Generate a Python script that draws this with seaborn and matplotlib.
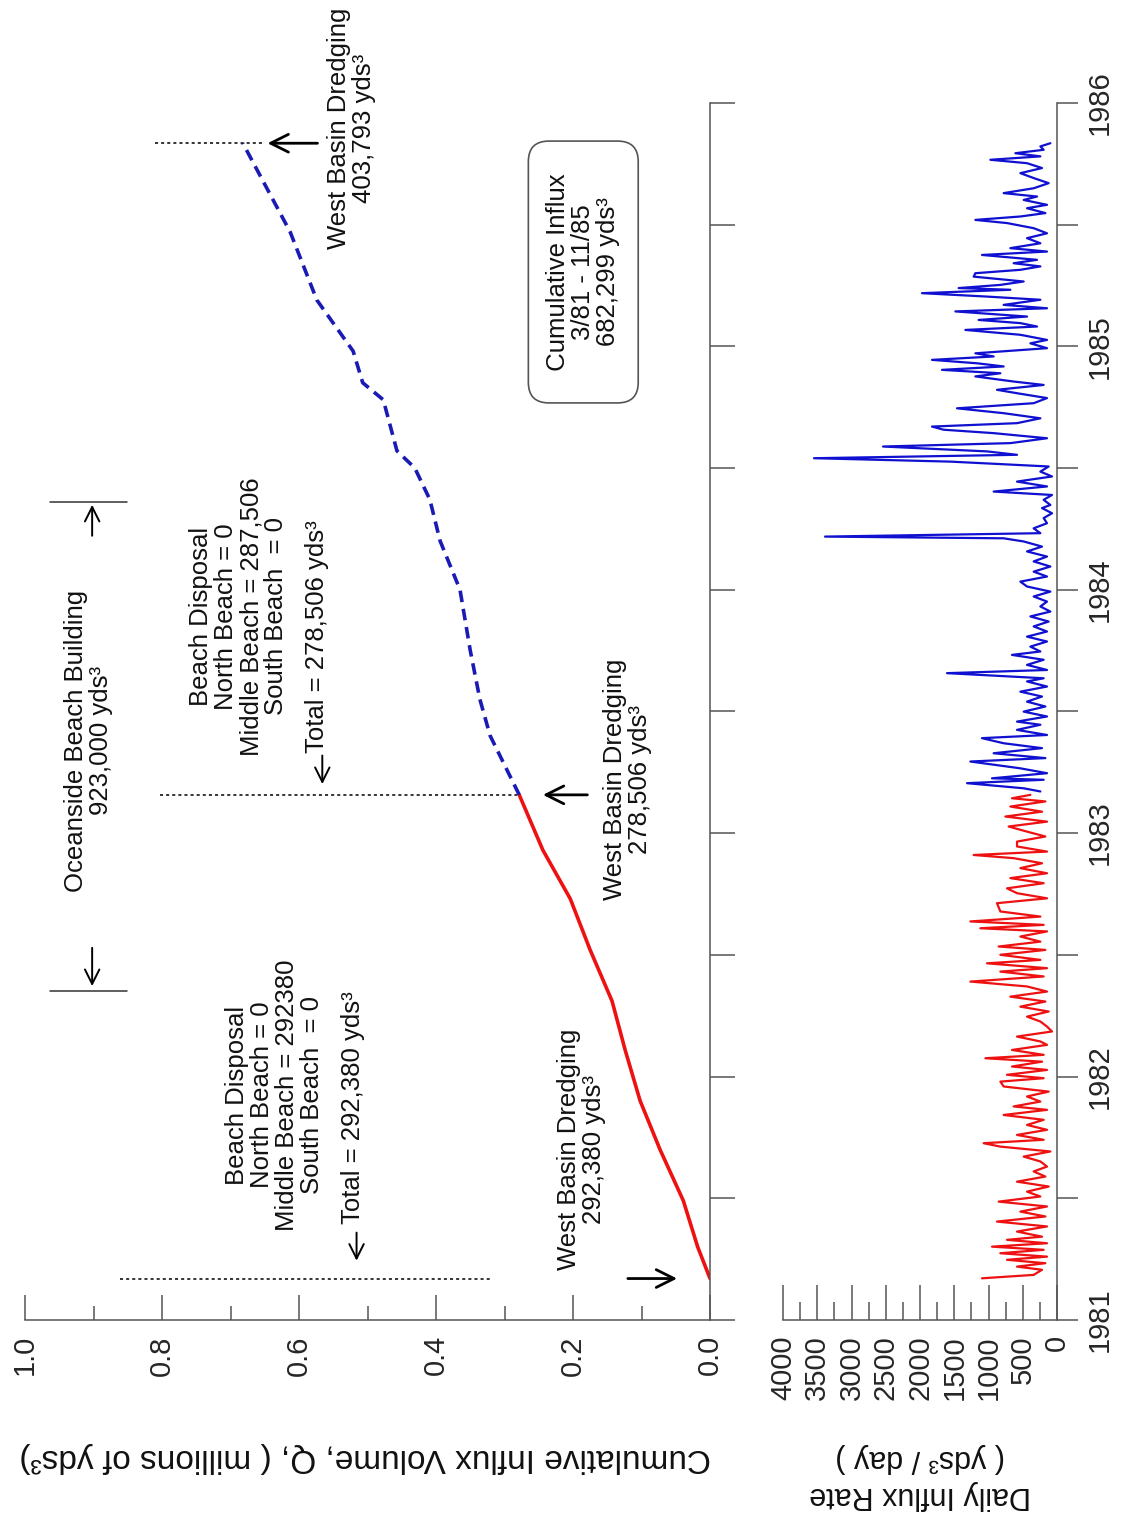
import matplotlib
matplotlib.use("Agg")
import matplotlib.pyplot as plt
import seaborn as sns

sns.set_style("ticks")
plt.rcParams['font.family'] = ['Liberation Sans', 'DejaVu Sans']

# cumulative influx volume (millions of yds3), red = before 1983 dredging, blue = after
cum_red_years = [1981.17, 1981.3, 1981.49, 1981.70, 1981.90, 1982.11, 1982.31, 1982.52,
                 1982.73, 1982.93, 1983.157]
cum_red_vals = [0.0, 0.018, 0.039, 0.073, 0.102, 0.124, 0.143, 0.175,
                0.204, 0.244, 0.2785]
cum_blue_years = [1983.157, 1983.40, 1983.55, 1983.75, 1984.0, 1984.2, 1984.37, 1984.5,
                  1984.57, 1984.78, 1984.85, 1984.98, 1985.19, 1985.47, 1985.834]
cum_blue_vals = [0.2785, 0.321, 0.336, 0.350, 0.365, 0.394, 0.409, 0.431,
                 0.457, 0.477, 0.507, 0.521, 0.574, 0.613, 0.682]

# daily influx rate (yds3 / day)
red_years = [1981.171, 1981.185, 1981.206, 1981.219, 1981.233, 1981.247, 1981.260, 1981.274,
             1981.288, 1981.301, 1981.315, 1981.329, 1981.342, 1981.363, 1981.384, 1981.404,
             1981.425, 1981.445, 1981.466, 1981.486, 1981.507, 1981.527, 1981.548, 1981.568,
             1981.589, 1981.610, 1981.630, 1981.651, 1981.671, 1981.692, 1981.712, 1981.726,
             1981.740, 1981.760, 1981.781, 1981.801, 1981.822, 1981.842, 1981.863, 1981.877,
             1981.897, 1981.918, 1981.938, 1981.959, 1981.979, 1981.993, 1982.007, 1982.027,
             1982.041, 1982.061, 1982.075, 1982.089, 1982.109, 1982.130, 1982.144, 1982.164,
             1982.185, 1982.205, 1982.226, 1982.246, 1982.267, 1982.287, 1982.308, 1982.328,
             1982.349, 1982.370, 1982.390, 1982.411, 1982.431, 1982.445, 1982.465, 1982.479,
             1982.500, 1982.520, 1982.534, 1982.554, 1982.575, 1982.596, 1982.609, 1982.623,
             1982.637, 1982.657, 1982.678, 1982.712, 1982.732, 1982.753, 1982.773, 1982.794,
             1982.815, 1982.835, 1982.856, 1982.876, 1982.897, 1982.910, 1982.924, 1982.945,
             1982.965, 1982.986, 1983.006, 1983.027, 1983.047, 1983.068, 1983.088, 1983.109,
             1983.130, 1983.143, 1983.157]
red_rate = [1095, 341, 219, 584, 170, 730, 146, 827,
            195, 949, 146, 730, 219, 584, 146, 876,
            170, 535, 146, 852, 243, 438, 122, 584,
            170, 341, 146, 243, 487, 97, 827, 1071,
            195, 584, 146, 438, 195, 779, 146, 633,
            243, 438, 122, 779, 827, 195, 730, 146,
            657, 219, 1046, 195, 657, 146, 243, 584,
            73, 146, 243, 438, 122, 535, 170, 681,
            146, 438, 1265, 195, 827, 146, 1022, 243,
            827, 170, 852, 243, 535, 146, 1119, 195,
            1265, 243, 827, 876, 146, 584, 730, 195,
            681, 146, 535, 219, 633, 1217, 146, 584,
            584, 170, 438, 706, 146, 754, 219, 681,
            170, 657, 389]

blue_years = [1983.171, 1983.184, 1983.205, 1983.219, 1983.225, 1983.246, 1983.266, 1983.294,
              1983.308, 1983.328, 1983.349, 1983.369, 1983.390, 1983.403, 1983.424, 1983.445,
              1983.458, 1983.479, 1983.499, 1983.520, 1983.540, 1983.561, 1983.581, 1983.602,
              1983.623, 1983.636, 1983.657, 1983.670, 1983.691, 1983.712, 1983.732, 1983.746,
              1983.766, 1983.787, 1983.807, 1983.828, 1983.849, 1983.869, 1983.890, 1983.910,
              1983.931, 1983.951, 1983.972, 1983.992, 1984.013, 1984.033, 1984.054, 1984.074,
              1984.095, 1984.116, 1984.136, 1984.157, 1984.177, 1984.198, 1984.211, 1984.218,
              1984.232, 1984.252, 1984.273, 1984.294, 1984.314, 1984.335,
              1984.348, 1984.369, 1984.389, 1984.403, 1984.424, 1984.444, 1984.465, 1984.485,
              1984.506, 1984.526, 1984.540, 1984.554, 1984.568, 1984.588, 1984.602, 1984.622,
              1984.643, 1984.657, 1984.670, 1984.684, 1984.704, 1984.725, 1984.745, 1984.766,
              1984.787, 1984.807, 1984.821, 1984.841, 1984.855, 1984.876, 1984.889, 1984.903,
              1984.917, 1984.930, 1984.944, 1984.958, 1984.971, 1984.992, 1985.012, 1985.026,
              1985.047, 1985.067, 1985.081, 1985.095, 1985.108, 1985.122, 1985.143, 1985.156,
              1985.170, 1985.191, 1985.204, 1985.218, 1985.232, 1985.239, 1985.252, 1985.266,
              1985.286, 1985.300, 1985.314, 1985.328, 1985.341, 1985.355, 1985.375, 1985.389,
              1985.403, 1985.423, 1985.444, 1985.464, 1985.485, 1985.506, 1985.519, 1985.533,
              1985.547, 1985.567, 1985.581, 1985.601, 1985.615, 1985.629, 1985.649, 1985.670,
              1985.691, 1985.711, 1985.732, 1985.752, 1985.766, 1985.780, 1985.793, 1985.807,
              1985.821, 1985.834]
blue_rate = [243, 487, 1314, 195, 949, 146, 535, 1265,
             170, 925, 219, 779, 1095, 146, 584, 243,
             584, 146, 487, 170, 438, 219, 535, 146,
             438, 195, 1606, 146, 438, 195, 657, 243,
             389, 146, 438, 146, 341, 122, 389, 97,
             243, 146, 341, 97, 438, 535, 146, 341,
             97, 341, 146, 438, 219, 487, 779, 3387,
             243, 341, 146, 195, 73, 219,
             97, 195, 73, 925, 146, 584, 73, 243,
             122, 1557, 3548, 584, 1022, 2540, 681, 146,
             925, 1655, 1825, 584, 243, 779, 1460, 341,
             146, 584, 876, 195, 633, 1192, 827, 1679,
             779, 1168, 1825, 925, 1192, 146, 389, 146,
             535, 1338, 292, 535, 1144, 438, 1484, 146,
             779, 243, 1022, 1971, 681, 1436, 827, 487,
             1217, 1192, 535, 243, 633, 292, 1095, 146,
             681, 243, 438, 146, 341, 730, 1192, 535,
             170, 438, 146, 487, 292, 779, 341, 122,
             341, 535, 219, 438, 973, 243, 608, 195,
             243, 97]

value_ticks = [0.0, 0.2, 0.4, 0.6, 0.8, 1.0]
rate_ticks = [0, 500, 1000, 1500, 2000, 2500, 3000, 3500, 4000]
year_ticks = [1981, 1982, 1983, 1984, 1985, 1986]

FS = 18.5      # annotation text
FT = 21        # tick labels
axis_col = '#555555'

fig = plt.figure(figsize=(11.27, 15.21), dpi=100)
ax1 = fig.add_axes([0.0222, 0.1322, 0.6078, 0.8002])
ax2 = fig.add_axes([0.6948, 0.1322, 0.2431, 0.8002])

# upper panel (drawn rotated: value along x, time along y)
sns.lineplot(x=cum_red_vals, y=cum_red_years, sort=False, estimator=None,
             color='#ee1111', lw=2.6, ax=ax1)
sns.lineplot(x=cum_blue_vals, y=cum_blue_years, sort=False, estimator=None,
             color='#1a1ab4', lw=2.6, ax=ax1)
ax1.lines[-1].set_dashes([3.2, 1.9])

# lower panel
sns.lineplot(x=red_rate, y=red_years, sort=False, estimator=None,
             color='#ee1111', lw=1.6, ax=ax2)
sns.lineplot(x=blue_rate, y=blue_years, sort=False, estimator=None,
             color='#1010d0', lw=1.6, ax=ax2)

for ax in (ax1, ax2):
    ax.set_ylim(1981, 1986)
    ax.spines['top'].set_visible(False)
    ax.spines['left'].set_visible(False)
    for s in ('right', 'bottom'):
        ax.spines[s].set_color(axis_col)
        ax.spines[s].set_linewidth(1.1)
    ax.yaxis.tick_right()
    ax.set_yticks([y + h for y in year_ticks for h in (0, 0.5) if y + h <= 1986])
    ax.set_xlabel('')
    ax.set_ylabel('')

ax1.set_xlim(1.0, 0.0)
ax1.set_xticks(value_ticks)
ax1.set_xticks([0.1, 0.3, 0.5, 0.7, 0.9], minor=True)
ax1.set_xticklabels([f'{v:.1f}' for v in value_ticks])
ax1.tick_params(axis='x', which='major', bottom=True, direction='in', length=18, width=1.1,
                color=axis_col, pad=11, labelsize=FT, labelrotation=90)
ax1.tick_params(axis='x', which='minor', bottom=True, direction='in', length=10, width=1.1,
                color=axis_col)
ax1.tick_params(axis='y', right=True, direction='out', length=18, width=1.1, color=axis_col,
                labelright=False)

ax2.set_xlim(4000, 0)
ax2.set_xticks(rate_ticks)
ax2.set_xticks([250, 750, 1250, 1750, 2250, 2750, 3250, 3750], minor=True)
ax2.set_xticklabels([str(v) for v in rate_ticks])
ax2.tick_params(axis='x', which='major', bottom=True, direction='in', length=25, width=1.1,
                color=axis_col, pad=11, labelsize=FT, labelrotation=90)
ax2.tick_params(axis='x', which='minor', bottom=True, direction='in', length=13, width=1.1,
                color=axis_col)
ax2.set_yticklabels(['1981', '', '1982', '', '1983', '', '1984', '', '1985', '', '1986'])
ax2.tick_params(axis='y', right=True, direction='out', length=15, width=1.1, color=axis_col,
                labelright=True, labelsize=FT, pad=6)
for lab in ax2.get_yticklabels():
    lab.set_rotation(90)
    lab.set_va('center')

# dredging markers: dotted lines and arrows
ax1.plot([0.861, 0.321], [1981.17, 1981.17], color='black', lw=1.1, ls=(0, (2, 2)))
ax1.plot([0.803, 0.282], [1983.157, 1983.157], color='black', lw=1.1, ls=(0, (2, 2)))
ax1.plot([0.810, 0.650], [1985.834, 1985.834], color='black', lw=1.1, ls=(0, (2, 2)))
arrow = dict(arrowstyle='->', lw=2.0, color='black', mutation_scale=32)
ax1.annotate('', xy=(0.044, 1981.17), xytext=(0.124, 1981.17), arrowprops=arrow)
ax1.annotate('', xy=(0.248, 1983.157), xytext=(0.175, 1983.157), arrowprops=arrow)
ax1.annotate('', xy=(0.650, 1985.834), xytext=(0.569, 1985.834), arrowprops=arrow)

# Oceanside beach building bracket and the small "total" arrows
thin = dict(arrowstyle='->', lw=1.4, color='black', mutation_scale=26)
ax1.plot([0.851, 0.963], [1982.35, 1982.35], color='#333333', lw=1.1)
ax1.plot([0.851, 0.963], [1984.36, 1984.36], color='#333333', lw=1.1)
ax1.annotate('', xy=(0.902, 1982.36), xytext=(0.902, 1982.54), arrowprops=thin)
ax1.annotate('', xy=(0.902, 1984.36), xytext=(0.902, 1984.21), arrowprops=thin)
ax1.annotate('', xy=(0.516, 1981.232), xytext=(0.516, 1981.37), arrowprops=thin)
ax1.annotate('', xy=(0.566, 1983.19), xytext=(0.566, 1983.33), arrowprops=thin)

txt = dict(rotation=90, ha='center', va='center', multialignment='center',
           fontsize=FS, linespacing=1.05, color='#111111')
ax1.text(0.187, 1981.70, 'West Basin Dredging\n292,380 yds³', **txt)
ax1.text(0.636, 1981.924, 'Beach Disposal\nNorth Beach = 0\nMiddle Beach = 292380\nSouth Beach  = 0', **txt)
ax1.text(0.521, 1981.871, 'Total = 292,380 yds³', **txt)
ax1.text(0.907, 1983.38, 'Oceanside Beach Building\n923,000 yds³', **txt)
ax1.text(0.688, 1983.89, 'Beach Disposal\nNorth Beach = 0\nMiddle Beach = 287,506\nSouth Beach  = 0', **txt)
ax1.text(0.574, 1983.806, 'Total = 278,506 yds³', **txt)
ax1.text(0.121, 1983.22, 'West Basin Dredging\n278,506 yds³', **txt)
ax1.text(0.523, 1985.897, 'West Basin Dredging\n403,793 yds³', **txt)
ax1.text(0.185, 1985.305, '  Cumulative Influx  \n3/81 - 11/85\n682,299 yds³', **txt,
         bbox=dict(boxstyle='round,pad=0.7,rounding_size=0.8', fc='white',
                   ec='#555555', lw=1.2))

fig.text(0.324, 0.042, 'Cumulative Influx Volume, Q, ( millions of yds³)',
         rotation=180, ha='center', va='center', fontsize=24, color='#111111')
fig.text(0.816, 0.029, 'Daily Influx Rate\n( yds³ / day )', rotation=180,
         ha='center', va='center', multialignment='center', fontsize=22,
         linespacing=1.3, color='#111111')

fig.savefig('out.png', dpi=100, facecolor='white')
